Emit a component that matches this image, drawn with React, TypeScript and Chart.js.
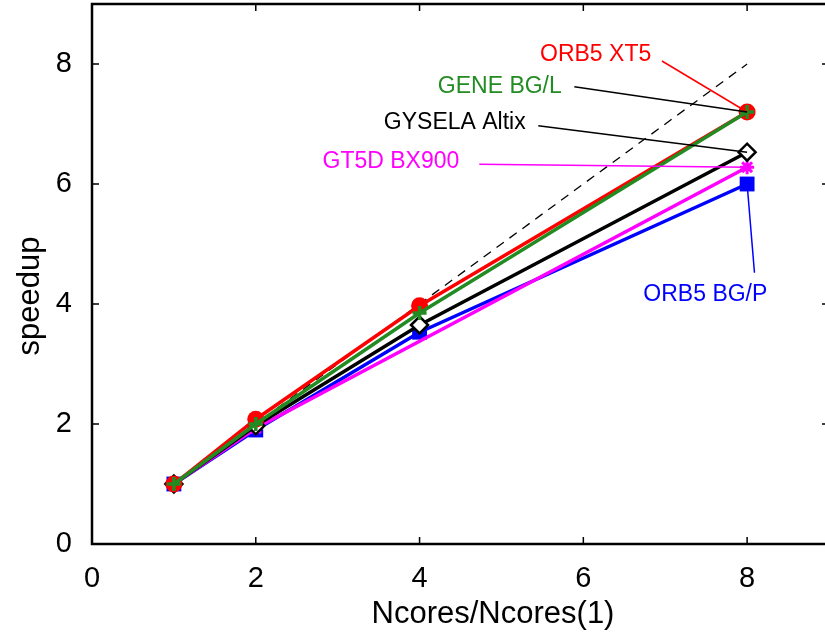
import React, { useEffect, useRef } from "react";
import { Chart, registerables } from "chart.js";

Chart.register(...registerables);

const xs = [1, 2, 4, 8];
const orb5xt5 = [1, 2.08, 3.97, 7.2];
const geneBGL = [1, 2.0, 3.85, 7.2];
const gysela = [1, 1.97, 3.65, 6.53];
const gt5dX = [1, 2, 8];
const gt5d = [1, 1.93, 6.28];
const orb5bgp = [1, 1.9, 3.53, 6.0];
const idealX = [1, 8];
const idealY = [1, 8];
const tickValues = [0, 2, 4, 6, 8];

const labelNames = ["ORB5 XT5", "GENE BG/L", "GYSELA Altix", "GT5D BX900", "ORB5 BG/P"];
const labelColors = ["#ff0000", "#228b22", "#000000", "#ff00ff", "#0000ff"];
const labelLineColors = ["#ff0000", "#000000", "#000000", "#ff00ff", "#0000ff"];
const labelTextPos = [[6.15, 8.15], [4.98, 7.63], [4.43, 7.02], [3.65, 6.37], [7.49, 4.15]];
const labelLineStart = [[6.96, 8.05], [5.89, 7.62], [5.45, 6.97], [4.73, 6.33], [8.09, 4.52]];
const labelLineEnd = [[8, 7.2], [8, 7.2], [8, 6.53], [8, 6.28], [8, 6.0]];

const FONT = "'Liberation Sans', Arial, Helvetica, sans-serif";
const SHIFT = 7;

function pts(x: number[], y: number[]) {
  return x.map((v, i) => ({ x: v, y: y[i] }));
}

const framePlugin = {
  id: "frame",
  afterDatasetsDraw(chart: any) {
    const { ctx, chartArea: a, scales } = chart;
    const xs_ = scales.x;
    const ys_ = scales.y;
    ctx.save();
    // annotations
    ctx.font = `23px ${FONT}`;
    ctx.textAlign = "center";
    ctx.textBaseline = "middle";
    for (let i = 0; i < labelNames.length; i++) {
      ctx.strokeStyle = labelLineColors[i];
      ctx.lineWidth = 1.5;
      ctx.beginPath();
      ctx.moveTo(xs_.getPixelForValue(labelLineStart[i][0]), ys_.getPixelForValue(labelLineStart[i][1]));
      ctx.lineTo(xs_.getPixelForValue(labelLineEnd[i][0]), ys_.getPixelForValue(labelLineEnd[i][1]));
      ctx.stroke();
      ctx.fillStyle = labelColors[i];
      ctx.fillText(labelNames[i], xs_.getPixelForValue(labelTextPos[i][0]), ys_.getPixelForValue(labelTextPos[i][1]));
    }
    // frame
    ctx.strokeStyle = "#000";
    ctx.lineWidth = 2.5;
    ctx.strokeRect(a.left, a.top, a.right - a.left, a.bottom - a.top);
    ctx.lineWidth = 1.5;
    const tl = 7;
    ctx.beginPath();
    for (const v of tickValues) {
      const px = xs_.getPixelForValue(v);
      ctx.moveTo(px, a.bottom);
      ctx.lineTo(px, a.bottom - tl);
      ctx.moveTo(px, a.top);
      ctx.lineTo(px, a.top + tl);
      const py = ys_.getPixelForValue(v);
      ctx.moveTo(a.left, py);
      ctx.lineTo(a.left + tl, py);
      ctx.moveTo(a.right, py);
      ctx.lineTo(a.right - tl, py);
    }
    ctx.stroke();
    // titles
    ctx.fillStyle = "#000";
    ctx.font = `31px ${FONT}`;
    ctx.textAlign = "center";
    ctx.textBaseline = "middle";
    ctx.fillText("Ncores/Ncores(1)", 493, 614 + SHIFT);
    ctx.translate(30, 296 + SHIFT);
    ctx.rotate(-Math.PI / 2);
    ctx.fillText("speedup", 0, 0);
    ctx.restore();
  },
};

function zeroPad(s: any) {
  s.paddingTop = 0;
  s.paddingBottom = 0;
  s.paddingLeft = 0;
  s.paddingRight = 0;
}

export default function App() {
  const ref = useRef<HTMLCanvasElement>(null);
  useEffect(() => {
    if (!ref.current) return;
    const chart = new Chart(ref.current, {
      type: "scatter",
      data: {
        datasets: [
          {
            label: "ideal",
            data: pts(idealX, idealY),
            showLine: true,
            borderColor: "#000",
            borderWidth: 1.3,
            borderDash: [9, 7],
            pointRadius: 0,
            order: 10,
          },
          {
            label: "ORB5 BG/P",
            data: pts(xs, orb5bgp),
            showLine: true,
            borderColor: "#0000ff",
            backgroundColor: "#0000ff",
            borderWidth: 3.5,
            pointStyle: "rect",
            pointRadius: 10.5,
            pointBorderWidth: 0,
            order: 6,
          },
          {
            label: "GT5D BX900",
            data: pts(gt5dX, gt5d),
            showLine: true,
            borderColor: "#ff00ff",
            backgroundColor: "#ff00ff",
            borderWidth: 3.5,
            pointStyle: "star",
            pointRadius: 7,
            pointBorderWidth: 3,
            order: 5,
          },
          {
            label: "GYSELA Altix",
            data: pts(xs, gysela),
            showLine: true,
            borderColor: "#000",
            backgroundColor: "#fff",
            borderWidth: 3.5,
            pointStyle: "rectRot",
            pointRadius: 8.5,
            pointBorderWidth: 2.5,
            order: 4,
          },
          {
            label: "ORB5 XT5",
            data: pts(xs, orb5xt5),
            showLine: true,
            borderColor: "#ff0000",
            backgroundColor: "#ff0000",
            borderWidth: 3.5,
            pointStyle: "circle",
            pointRadius: 8.5,
            pointBorderWidth: 0,
            order: 3,
          },
          {
            label: "GENE BG/L",
            data: pts(xs, geneBGL),
            showLine: true,
            borderColor: "#228b22",
            backgroundColor: "#228b22",
            borderWidth: 3.5,
            pointStyle: "cross",
            pointRadius: 7,
            pointBorderWidth: 3.5,
            order: 2,
          },
        ],
      },
      options: {
        responsive: false,
        animation: false,
        devicePixelRatio: 1,
        layout: { padding: 0 },
        plugins: { legend: { display: false }, tooltip: { enabled: false } },
        scales: {
          x: {
            type: "linear",
            min: 0,
            max: 9,
            afterFit: (s: any) => {
              s.height = 95;
              zeroPad(s);
            },
            afterBuildTicks: (s: any) => {
              s.ticks = tickValues.map((v) => ({ value: v }));
            },
            grid: { display: false },
            border: { display: false },
            ticks: {
              color: "#000",
              padding: 10,
              font: { family: FONT, size: 29 },
              maxRotation: 0,
            },
          },
          y: {
            type: "linear",
            min: 0,
            max: 9,
            afterFit: (s: any) => {
              s.width = 92;
              zeroPad(s);
            },
            afterBuildTicks: (s: any) => {
              s.ticks = tickValues.map((v) => ({ value: v }));
            },
            grid: { display: false },
            border: { display: false },
            ticks: {
              color: "#000",
              padding: 12,
              font: { family: FONT, size: 29 },
            },
          },
        },
      },
      plugins: [framePlugin],
    });
    return () => chart.destroy();
  }, []);
  return (
    <div
      style={{
        position: "fixed",
        left: 0,
        top: 0,
        width: 825,
        height: 639,
        overflow: "hidden",
        background: "#fff",
      }}
    >
      <canvas
        ref={ref}
        width={840}
        height={639 + SHIFT}
        style={{ display: "block", marginTop: -SHIFT }}
      />
    </div>
  );
}
